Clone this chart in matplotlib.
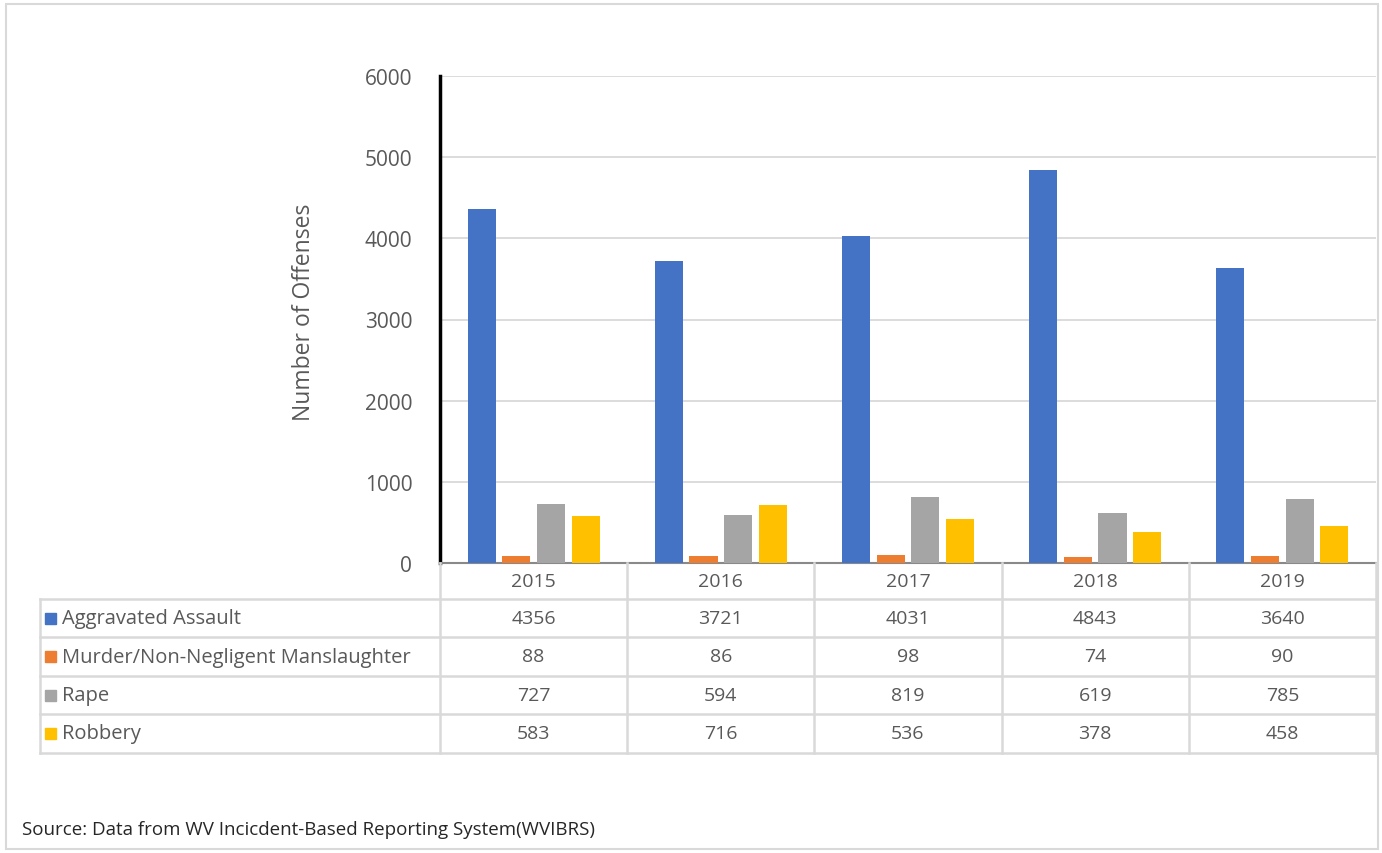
import numpy as np
import matplotlib.pyplot as plt
from matplotlib.lines import Line2D
from matplotlib.patches import Rectangle
import matplotlib.transforms as mtransforms

plt.rcParams['font.family'] = ['Open Sans', 'DejaVu Sans']

years = ['2015', '2016', '2017', '2018', '2019']
offenses = ['Aggravated Assault', 'Murder/Non-Negligent Manslaughter', 'Rape', 'Robbery']
assault = [4356, 3721, 4031, 4843, 3640]
murder = [88, 86, 98, 74, 90]
rape = [727, 594, 819, 619, 785]
robbery = [583, 716, 536, 378, 458]
colors = ['#4472C4', '#ED7D31', '#A5A5A5', '#FFC000']
series = [assault, murder, rape, robbery]

txt = '#595959'
grid_c = '#D9D9D9'

fig = plt.figure(figsize=(13.82, 8.54), dpi=100)
W, H = 1382, 854

def fx(px):
    return px / W

def fy(py):
    return 1 - py / H

ax = fig.add_axes([fx(440), fy(564), fx(1376) - fx(440), fy(77) - fy(564)])

x = np.arange(len(years))
step = 0.185
width = 0.15
for i, (vals, c) in enumerate(zip(series, colors)):
    ax.bar(x + (i - 1.5) * step, vals, width, color=c, zorder=3)

ax.set_xlim(-0.5, len(years) - 0.5)
ax.set_ylim(0, 6000)
ax.set_yticks(range(0, 6001, 1000))
ax.set_xticks([])
ax.yaxis.grid(True, color=grid_c, linewidth=1.3, zorder=0)
ax.tick_params(axis='y', length=0, pad=20, labelsize=15, labelcolor=txt)
for s in ['top', 'right']:
    ax.spines[s].set_visible(False)
ax.spines['left'].set_color('black')
ax.spines['left'].set_linewidth(2.5)
ax.spines['bottom'].set_color('#898989')
ax.spines['bottom'].set_linewidth(1.5)
ax.set_ylabel('Number of Offenses', fontsize=16.5, color=txt)
ax.yaxis.set_label_coords(-0.132, 0.517)

# data table below the axes
trans = mtransforms.blended_transform_factory(ax.transData, fig.transFigure)
row_edges = [564, 600, 638, 677, 715, 754]
tbl_left = 40
tfs = 14

for k, py in enumerate(row_edges):
    if k == 0:
        continue
    fig.add_artist(Line2D([fx(tbl_left), fx(1376)], [fy(py), fy(py)],
                          transform=fig.transFigure, color=grid_c, linewidth=1.8))
for b in np.arange(len(years) + 1) - 0.5:
    fig.add_artist(Line2D([b, b], [fy(row_edges[0]), fy(row_edges[-1])],
                          transform=trans, color=grid_c, linewidth=1.8))
fig.add_artist(Line2D([fx(tbl_left), fx(tbl_left)], [fy(row_edges[1]), fy(row_edges[-1])],
                      transform=fig.transFigure, color=grid_c, linewidth=1.8))

for j, yr in enumerate(years):
    yc = (row_edges[0] + row_edges[1]) / 2
    fig.text(x[j], fy(yc), yr, transform=trans, ha='center', va='center',
             fontsize=tfs, color=txt)

for i, name in enumerate(offenses):
    yc = (row_edges[i + 1] + row_edges[i + 2]) / 2
    fig.add_artist(Rectangle((fx(45), fy(yc) - 5.5 / H), 11 / W, 11 / H,
                             transform=fig.transFigure, color=colors[i]))
    fig.text(fx(62), fy(yc), name, ha='left', va='center', fontsize=tfs + 0.5, color=txt)
    for j in range(len(years)):
        fig.text(x[j], fy(yc), str(series[i][j]), transform=trans,
                 ha='center', va='center', fontsize=tfs, color=txt)

fig.text(fx(22), fy(830), 'Source: Data from WV Incicdent-Based Reporting System(WVIBRS)',
         ha='left', va='center', fontsize=13.5, color='#262626')

# outer border
fig.add_artist(Rectangle((fx(6), fy(850)), fx(1378) - fx(6), fy(5) - fy(850),
                         transform=fig.transFigure, fill=False,
                         edgecolor=grid_c, linewidth=1.5))

fig.savefig('out.png', dpi=100)
